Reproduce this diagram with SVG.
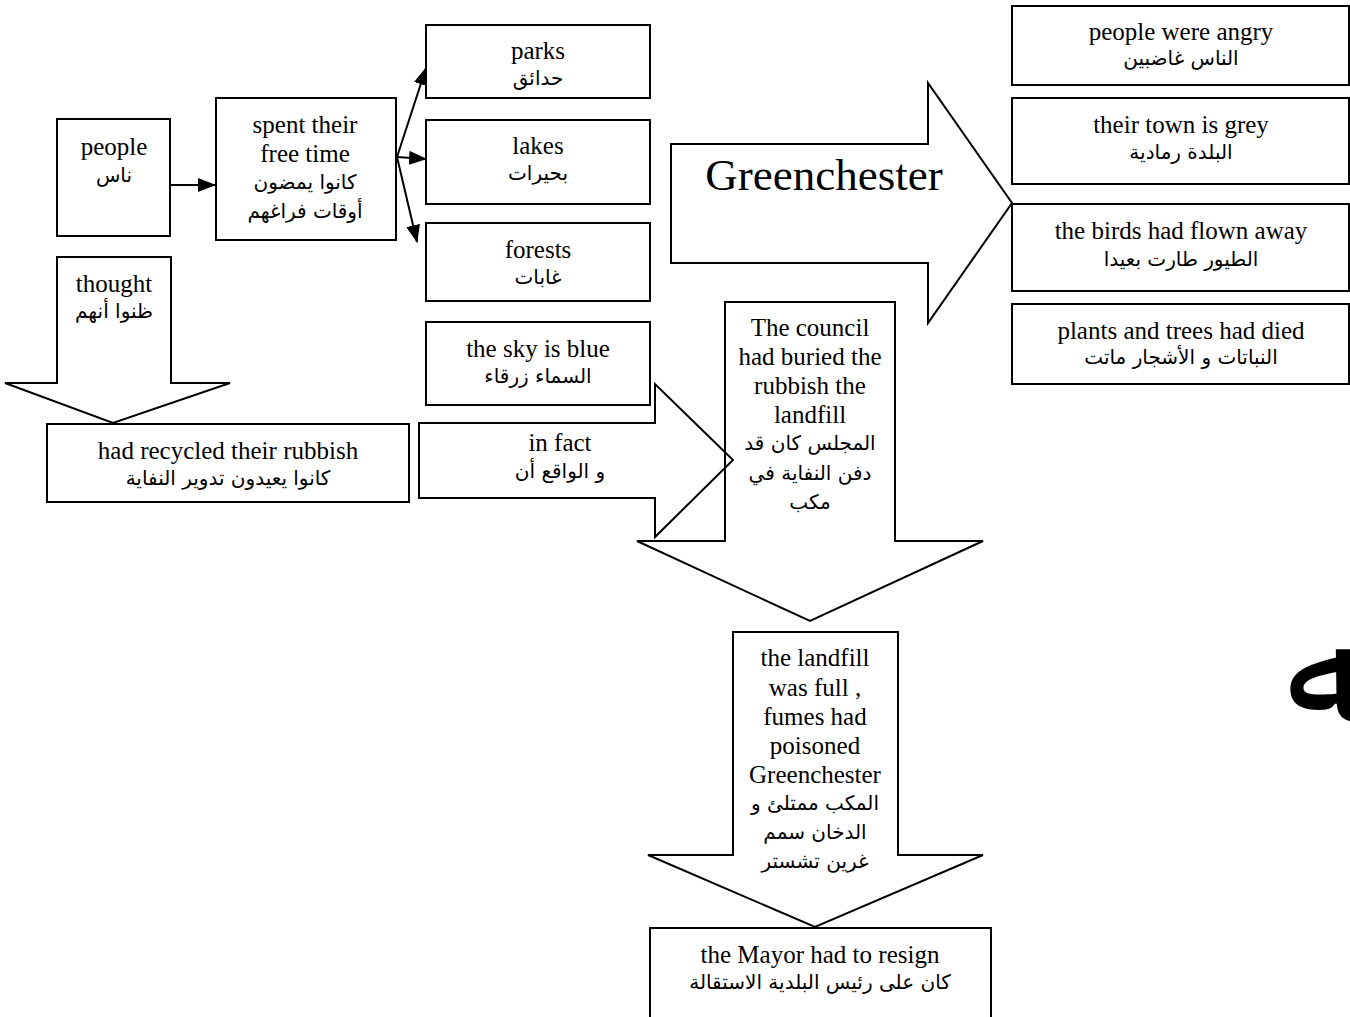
<svg xmlns="http://www.w3.org/2000/svg" width="1350" height="1017" viewBox="0 0 1350 1017">
  <style>
    .box { fill: #fff; stroke: #000; stroke-width: 2; }
    .shape { fill: none; stroke: #000; stroke-width: 2; stroke-linejoin: miter; }
    .en { font-family: "Liberation Serif", "Times New Roman", serif; font-size: 25px; fill: #000; text-anchor: middle; }
    .ar { font-family: "DejaVu Sans", "Liberation Sans", sans-serif; font-size: 20px; fill: #000; text-anchor: middle; direction: rtl; }
    .big { font-family: "Liberation Serif", "Times New Roman", serif; font-size: 45px; fill: #000; text-anchor: middle; }
    .conn { stroke: #000; stroke-width: 2; fill: none; }
  </style>
  <defs>
    <marker id="tri" markerUnits="userSpaceOnUse" markerWidth="18" markerHeight="14" refX="17" refY="7" orient="auto">
      <path d="M0,0 L18,7 L0,14 Z" fill="#000"/>
    </marker>
  </defs>
  <rect width="1350" height="1017" fill="#fff"/>

  <!-- line connectors -->
  <g id="connectors">
    <line class="conn" x1="171" y1="185" x2="215" y2="185" marker-end="url(#tri)"/>
    <line class="conn" x1="397" y1="157" x2="426" y2="68" marker-end="url(#tri)"/>
    <line class="conn" x1="397" y1="157" x2="426" y2="159" marker-end="url(#tri)"/>
    <line class="conn" x1="397" y1="157" x2="417" y2="242" marker-end="url(#tri)"/>
  </g>

  <g id="people">
    <rect class="box" x="57" y="119" width="113" height="117"/>
    <text class="en" x="114" y="155">people</text>
    <text class="ar" x="114" y="182">ناس</text>
  </g>

  <g id="spent">
    <rect class="box" x="216" y="98" width="180" height="142"/>
    <text class="en" x="305" y="133">spent their</text>
    <text class="en" x="305" y="162">free time</text>
    <text class="ar" x="305" y="189">كانوا يمضون</text>
    <text class="ar" x="305" y="218">أوقات فراغهم</text>
  </g>

  <g id="parks">
    <rect class="box" x="426" y="25" width="224" height="73"/>
    <text class="en" x="538" y="59">parks</text>
    <text class="ar" x="538" y="85">حدائق</text>
  </g>

  <g id="lakes">
    <rect class="box" x="426" y="120" width="224" height="84"/>
    <text class="en" x="538" y="154">lakes</text>
    <text class="ar" x="538" y="180">بحيرات</text>
  </g>

  <g id="forests">
    <rect class="box" x="426" y="223" width="224" height="78"/>
    <text class="en" x="538" y="258">forests</text>
    <text class="ar" x="538" y="284">غابات</text>
  </g>

  <g id="sky">
    <rect class="box" x="426" y="322" width="224" height="83"/>
    <text class="en" x="538" y="357">the sky is blue</text>
    <text class="ar" x="538" y="383">السماء زرقاء</text>
  </g>

  <g id="thought">
    <path class="shape" d="M57,257 L171,257 L171,383 L230,383 L113,423 L5,383 L57,383 Z"/>
    <text class="en" x="114" y="292">thought</text>
    <text class="ar" x="114" y="318">ظنوا أنهم</text>
  </g>

  <g id="recycled">
    <rect class="box" x="47" y="424" width="362" height="78"/>
    <text class="en" x="228" y="459">had recycled their rubbish</text>
    <text class="ar" x="228" y="485">كانوا يعيدون تدوير النفاية</text>
  </g>

  <g id="in-fact">
    <path class="shape" d="M419,423 L655,423 L655,384 L733,460 L655,537 L655,498 L419,498 Z"/>
    <text class="en" x="560" y="451">in fact</text>
    <text class="ar" x="560" y="478">و الواقع أن</text>
  </g>

  <g id="greenchester">
    <path class="shape" d="M671,144 L928,144 L928,83 L1012,203 L928,323 L928,263 L671,263 Z"/>
    <text class="big" x="824" y="190">Greenchester</text>
  </g>

  <g id="council">
    <path class="shape" d="M725,302 L895,302 L895,541 L983,541 L810,621 L637,541 L725,541 Z"/>
    <text class="en" x="810" y="336">The council</text>
    <text class="en" x="810" y="365">had buried the</text>
    <text class="en" x="810" y="394">rubbish the</text>
    <text class="en" x="810" y="423">landfill</text>
    <text class="ar" x="810" y="450">المجلس كان قد</text>
    <text class="ar" x="810" y="480">دفن النفاية في</text>
    <text class="ar" x="810" y="509">مكب</text>
  </g>

  <g id="angry">
    <rect class="box" x="1012" y="6" width="337" height="79"/>
    <text class="en" x="1181" y="40">people were angry</text>
    <text class="ar" x="1181" y="65">الناس غاضبين</text>
  </g>

  <g id="grey">
    <rect class="box" x="1012" y="98" width="337" height="86"/>
    <text class="en" x="1181" y="133">their town is grey</text>
    <text class="ar" x="1181" y="159">البلدة رمادية</text>
  </g>

  <g id="birds">
    <rect class="box" x="1012" y="204" width="337" height="87"/>
    <text class="en" x="1181" y="239">the birds had flown away</text>
    <text class="ar" x="1181" y="266">الطيور طارت بعيدا</text>
  </g>

  <g id="plants">
    <rect class="box" x="1012" y="304" width="337" height="80"/>
    <text class="en" x="1181" y="339">plants and trees had died</text>
    <text class="ar" x="1181" y="364">النباتات و الأشجار ماتت</text>
  </g>

  <g id="landfill-full">
    <path class="shape" d="M733,632 L898,632 L898,855 L983,855 L815,927 L648,855 L733,855 Z"/>
    <text class="en" x="815" y="666">the landfill</text>
    <text class="en" x="815" y="696">was full ,</text>
    <text class="en" x="815" y="725">fumes had</text>
    <text class="en" x="815" y="754">poisoned</text>
    <text class="en" x="815" y="783">Greenchester</text>
    <text class="ar" x="815" y="810">المكب ممتلئ و</text>
    <text class="ar" x="815" y="839">الدخان سمم</text>
    <text class="ar" x="815" y="868">غرين تشستر</text>
  </g>

  <g id="mayor">
    <rect class="box" x="650" y="928" width="341" height="100"/>
    <text class="en" x="820" y="963">the Mayor had to resign</text>
    <text class="ar" x="820" y="989">كان على رئيس البلدية الاستقالة</text>
  </g>

  <!-- large calligraphic word at the right edge, partly beyond the canvas -->
  <text x="1286" y="722" font-family="'DejaVu Sans', sans-serif" font-size="150" fill="#000">ﷲ</text>
</svg>
